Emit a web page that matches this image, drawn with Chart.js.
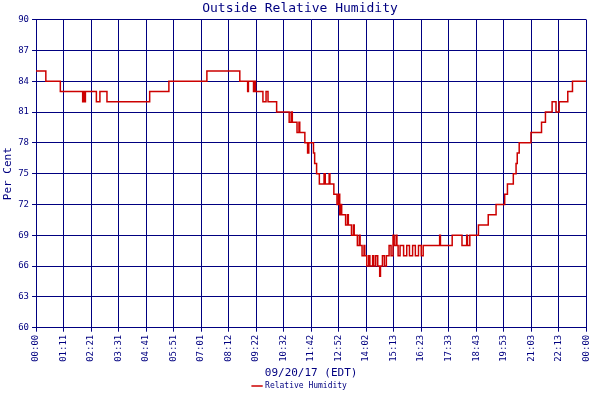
<!doctype html>
<html lang="en">
  <head>
    <meta charset="UTF-8" />
    <title>Outside Relative Humidity</title>
    <style>
      html, body { margin: 0; padding: 0; background: #fff; }
    </style>
  </head>
  <body>
    <canvas id="chart" width="600" height="400"></canvas>
    <script src="https://cdn.jsdelivr.net/npm/chart.js@4.4.0/dist/chart.umd.min.js"></script>
    <script>
      // minutes since 00:00 and humidity (%)
      const minutes = [0, 25, 62, 119, 121, 124, 126, 154, 163, 181, 290, 339, 436, 520, 540, 542, 555, 557, 560, 579, 587, 592, 614, 646, 651, 654, 666, 671, 673, 686, 693, 696, 708, 711, 716, 723, 735, 738, 748, 750, 760, 768, 772, 775, 777, 780, 790, 795, 797, 805, 810, 812, 820, 825, 827, 832, 837, 839, 844, 849, 852, 859, 862, 867, 872, 877, 879, 884, 889, 894, 901, 906, 911, 914, 919, 921, 924, 929, 938, 946, 953, 961, 968, 976, 983, 988, 1030, 1032, 1062, 1087, 1099, 1101, 1107, 1129, 1154, 1174, 1196, 1203, 1218, 1225, 1228, 1233, 1263, 1290, 1300, 1317, 1327, 1335, 1357, 1369, 1404];
      const humidity = [85, 84, 83, 82, 83, 82, 83, 82, 83, 82, 83, 84, 85, 84, 83, 84, 83, 84, 83, 82, 83, 82, 81, 80, 81, 80, 79, 80, 79, 78, 77, 78, 77, 76, 75, 74, 75, 74, 75, 74, 73, 72, 73, 71, 72, 71, 70, 71, 70, 69, 70, 69, 68, 69, 68, 67, 68, 67, 66, 67, 66, 67, 66, 67, 66, 65, 66, 67, 66, 67, 68, 67, 69, 68, 69, 68, 67, 68, 67, 68, 67, 68, 67, 68, 67, 68, 69, 68, 69, 68, 69, 68, 69, 70, 71, 72, 73, 74, 75, 76, 77, 78, 79, 80, 81, 82, 81, 82, 83, 84, 84];
      const tickLabels = ["00:00", "01:11", "02:21", "03:31", "04:41", "05:51", "07:01", "08:12", "09:22", "10:32", "11:42", "12:52", "14:02", "15:13", "16:23", "17:33", "18:43", "19:53", "21:03", "22:13", "00:00"];
      const tickStep = 70.2;

      const navy = "#000080";
      const font = { family: "DejaVu Sans Mono", size: 9 };

      new Chart(document.getElementById("chart"), {
        type: "line",
        data: {
          datasets: [
            {
              label: "Relative Humidity",
              data: minutes.map((m, i) => ({ x: m, y: humidity[i] })),
              stepped: true,
              borderColor: "#cc0000",
              backgroundColor: "#cc0000",
              borderWidth: 1.5,
              pointRadius: 0,
            },
          ],
        },
        options: {
          responsive: false,
          animation: false,
          devicePixelRatio: 1,
          layout: { padding: { top: 0, right: 2, left: 2 } },
          plugins: {
            title: {
              display: true,
              text: "Outside Relative Humidity",
              color: navy,
              font: { family: "DejaVu Sans Mono", size: 13, weight: "normal" },
              padding: { top: 1, bottom: 3 },
            },
            legend: {
              position: "bottom",
              labels: {
                color: navy,
                font: { family: "DejaVu Sans Mono", size: 8 },
                usePointStyle: true,
                pointStyle: "line",
                boxWidth: 20,
                padding: 2,
              },
            },
            tooltip: { enabled: false },
          },
          scales: {
            x: {
              type: "linear",
              min: 0,
              max: tickStep * 20,
              afterBuildTicks(axis) {
                axis.ticks = tickLabels.map((_, i) => ({ value: i * tickStep }));
              },
              ticks: {
                color: navy,
                font: font,
                maxRotation: 90,
                minRotation: 90,
                autoSkip: false,
                callback: (v, i) => tickLabels[i],
              },
              grid: { color: navy, lineWidth: 1, tickLength: 4 },
              border: { color: navy },
              title: {
                display: true,
                text: "09/20/17 (EDT)",
                color: navy,
                font: { family: "DejaVu Sans Mono", size: 11 },
                padding: { top: 2, bottom: 0 },
              },
            },
            y: {
              min: 60,
              max: 90,
              ticks: { stepSize: 3, autoSkip: false, color: navy, font: font, padding: 3 },
              grid: { color: navy, lineWidth: 1, tickLength: 4 },
              border: { color: navy },
              title: {
                display: true,
                text: "Per Cent",
                color: navy,
                font: { family: "DejaVu Sans Mono", size: 11 },
                padding: 0,
              },
            },
          },
        },
      });
    </script>
  </body>
</html>
